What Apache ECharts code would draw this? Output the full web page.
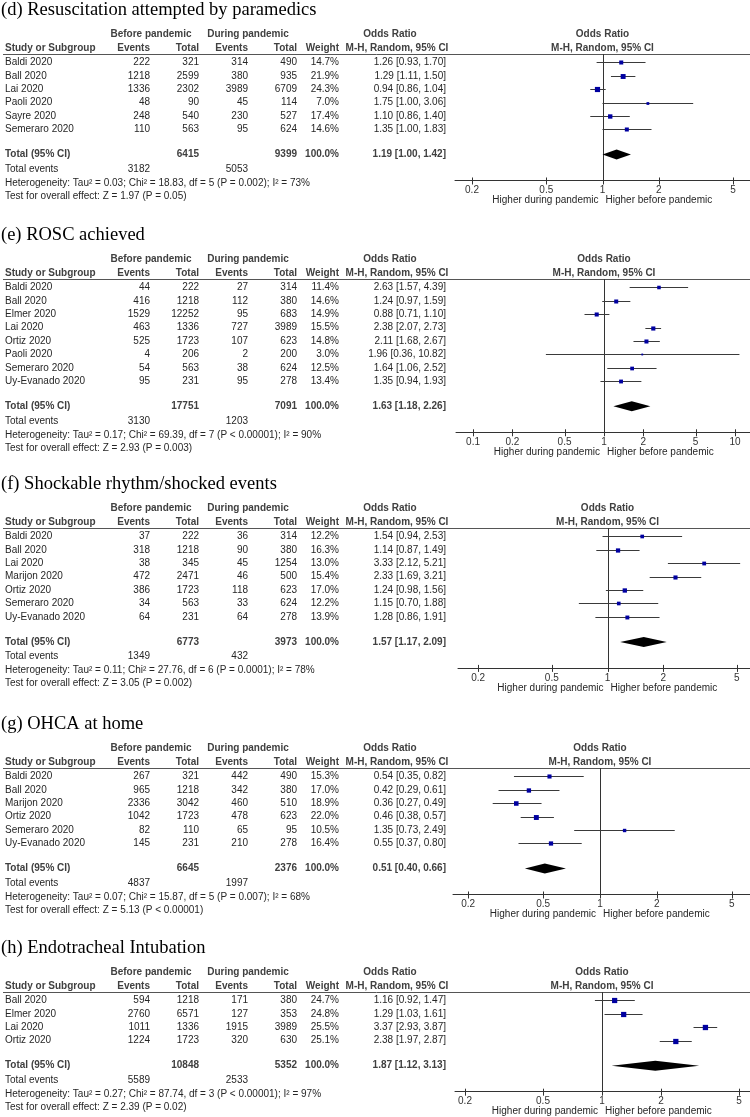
<!DOCTYPE html>
<html><head><meta charset="utf-8">
<script src="https://cdn.jsdelivr.net/npm/echarts@6/dist/echarts.min.js"></script>
<style>html,body{margin:0;padding:0;background:#fff}#c{width:750px;height:1117px}</style>
</head><body><div id="c"></div>
<script>
// ---------------- DATA ----------------
const titles = ["(d) Resuscitation attempted by paramedics", "(e) ROSC achieved", "(f) Shockable rhythm/shocked events", "(g) OHCA at home", "(h) Endotracheal Intubation"];

// (d) Resuscitation attempted by paramedics
const dStudies = ["Baldi 2020", "Ball 2020", "Lai 2020", "Paoli 2020", "Sayre 2020", "Semeraro 2020"];
const dBeforeEvents = [222, 1218, 1336, 48, 248, 110];
const dBeforeTotal = [321, 2599, 2302, 90, 540, 563];
const dDuringEvents = [314, 380, 3989, 45, 230, 95];
const dDuringTotal = [490, 935, 6709, 114, 527, 624];
const dWeight = [14.7, 21.9, 24.3, 7.0, 17.4, 14.6];
const dOR = [1.26, 1.29, 0.94, 1.75, 1.10, 1.35];
const dLo = [0.93, 1.11, 0.86, 1.00, 0.86, 1.00];
const dHi = [1.70, 1.50, 1.04, 3.06, 1.40, 1.83];

// (e) ROSC achieved
const eStudies = ["Baldi 2020", "Ball 2020", "Elmer 2020", "Lai 2020", "Ortiz 2020", "Paoli 2020", "Semeraro 2020", "Uy-Evanado 2020"];
const eBeforeEvents = [44, 416, 1529, 463, 525, 4, 54, 95];
const eBeforeTotal = [222, 1218, 12252, 1336, 1723, 206, 563, 231];
const eDuringEvents = [27, 112, 95, 727, 107, 2, 38, 95];
const eDuringTotal = [314, 380, 683, 3989, 623, 200, 624, 278];
const eWeight = [11.4, 14.6, 14.9, 15.5, 14.8, 3.0, 12.5, 13.4];
const eOR = [2.63, 1.24, 0.88, 2.38, 2.11, 1.96, 1.64, 1.35];
const eLo = [1.57, 0.97, 0.71, 2.07, 1.68, 0.36, 1.06, 0.94];
const eHi = [4.39, 1.59, 1.10, 2.73, 2.67, 10.82, 2.52, 1.93];

// (f) Shockable rhythm/shocked events
const fStudies = ["Baldi 2020", "Ball 2020", "Lai 2020", "Marijon 2020", "Ortiz 2020", "Semeraro 2020", "Uy-Evanado 2020"];
const fBeforeEvents = [37, 318, 38, 472, 386, 34, 64];
const fBeforeTotal = [222, 1218, 345, 2471, 1723, 563, 231];
const fDuringEvents = [36, 90, 45, 46, 118, 33, 64];
const fDuringTotal = [314, 380, 1254, 500, 623, 624, 278];
const fWeight = [12.2, 16.3, 13.0, 15.4, 17.0, 12.2, 13.9];
const fOR = [1.54, 1.14, 3.33, 2.33, 1.24, 1.15, 1.28];
const fLo = [0.94, 0.87, 2.12, 1.69, 0.98, 0.70, 0.86];
const fHi = [2.53, 1.49, 5.21, 3.21, 1.56, 1.88, 1.91];

// (g) OHCA at home
const gStudies = ["Baldi 2020", "Ball 2020", "Marijon 2020", "Ortiz 2020", "Semeraro 2020", "Uy-Evanado 2020"];
const gBeforeEvents = [267, 965, 2336, 1042, 82, 145];
const gBeforeTotal = [321, 1218, 3042, 1723, 110, 231];
const gDuringEvents = [442, 342, 460, 478, 65, 210];
const gDuringTotal = [490, 380, 510, 623, 95, 278];
const gWeight = [15.3, 17.0, 18.9, 22.0, 10.5, 16.4];
const gOR = [0.54, 0.42, 0.36, 0.46, 1.35, 0.55];
const gLo = [0.35, 0.29, 0.27, 0.38, 0.73, 0.37];
const gHi = [0.82, 0.61, 0.49, 0.57, 2.49, 0.80];

// (h) Endotracheal Intubation
const hStudies = ["Ball 2020", "Elmer 2020", "Lai 2020", "Ortiz 2020"];
const hBeforeEvents = [594, 2760, 1011, 1224];
const hBeforeTotal = [1218, 6571, 1336, 1723];
const hDuringEvents = [171, 127, 1915, 320];
const hDuringTotal = [380, 353, 3989, 630];
const hWeight = [24.7, 24.8, 25.5, 25.1];
const hOR = [1.16, 1.29, 3.37, 2.38];
const hLo = [0.92, 1.03, 2.93, 1.97];
const hHi = [1.47, 1.61, 3.87, 2.87];

// Pooled totals (d, e, f, g, h)
const totBeforeN = [6415, 17751, 6773, 6645, 10848];
const totDuringN = [9399, 7091, 3973, 2376, 5352];
const totBeforeEv = [3182, 3130, 1349, 4837, 5589];
const totDuringEv = [5053, 1203, 432, 1997, 2533];
const totOR = [1.19, 1.63, 1.57, 0.51, 1.87];
const totLo = [1.00, 1.18, 1.17, 0.40, 1.12];
const totHi = [1.42, 2.26, 2.09, 0.66, 3.13];

// Heterogeneity / overall effect
const hetTau2 = ["0.03", "0.17", "0.11", "0.07", "0.27"];
const hetChi2 = ["18.83", "69.39", "27.76", "15.87", "87.74"];
const hetDf = [5, 7, 6, 5, 3];
const hetP = ["= 0.002", "< 0.00001", "= 0.0001", "= 0.007", "< 0.00001"];
const hetI2 = [73, 90, 78, 68, 97];
const testZ = ["1.97", "2.93", "3.05", "5.13", "2.39"];
const testP = ["= 0.05", "= 0.003", "= 0.002", "< 0.00001", "= 0.02"];

// Axis tick labels
const ticksNarrow = [0.2, 0.5, 1, 2, 5];
const ticksWide = [0.1, 0.2, 0.5, 1, 2, 5, 10];
const favourLeft = "Higher during pandemic";
const favourRight = "Higher before pandemic";

// ---------------- LAYOUT (not data) ----------------
const panels = [
  {studies:dStudies, bEv:dBeforeEvents, bN:dBeforeTotal, dEv:dDuringEvents, dN:dDuringTotal, w:dWeight, or:dOR, lo:dLo, hi:dHi, ticks:ticksNarrow},
  {studies:eStudies, bEv:eBeforeEvents, bN:eBeforeTotal, dEv:eDuringEvents, dN:eDuringTotal, w:eWeight, or:eOR, lo:eLo, hi:eHi, ticks:ticksWide},
  {studies:fStudies, bEv:fBeforeEvents, bN:fBeforeTotal, dEv:fDuringEvents, dN:fDuringTotal, w:fWeight, or:fOR, lo:fLo, hi:fHi, ticks:ticksNarrow},
  {studies:gStudies, bEv:gBeforeEvents, bN:gBeforeTotal, dEv:gDuringEvents, dN:gDuringTotal, w:gWeight, or:gOR, lo:gLo, hi:gHi, ticks:ticksNarrow},
  {studies:hStudies, bEv:hBeforeEvents, bN:hBeforeTotal, dEv:hDuringEvents, dN:hDuringTotal, w:hWeight, or:hOR, lo:hLo, hi:hHi, ticks:ticksNarrow}
];
const layout = [
  {hy:48,  left:455, min:-0.79, max:0.79},
  {hy:273, left:456, min:-1.13, max:1.115},
  {hy:522, left:458, min:-0.808, max:0.77},
  {hy:762, left:453, min:-0.779, max:0.795},
  {hy:986, left:455, min:-0.75, max:0.755}
];
const ROW = 13.4;
const SANS = '"Liberation Sans", Arial, sans-serif';
const SERIF = '"Liberation Serif", "Times New Roman", serif';
const TXT = '#262626', HDR = '#404040';
const COL = {study:5, bEv:150, bN:199, dEv:248, dN:297, wt:339, or:446};

const lg = v => Math.log10(v);
const f2 = v => v.toFixed(2);

const option = {animation:false, grid:[], xAxis:[], yAxis:[], series:[]};

panels.forEach((p, k) => {
  const L = layout[k];
  const n = p.studies.length;
  const yMin = -0.634, yMax = n + 2.806;
  option.grid.push({left:L.left, right:0, top:L.hy + 6, height:ROW * (yMax - yMin)});
  const tv = p.ticks.map(lg);
  option.xAxis.push({
    type:'value', gridIndex:k, min:L.min, max:L.max,
    axisLine:{show:true, onZero:false, lineStyle:{color:'#333', width:1}},
    splitLine:{show:false},
    axisTick:{show:false},
    axisLabel:{customValues:tv, margin:5, fontSize:10, fontFamily:SANS, color:'#333',
      formatter: v => { const t = p.ticks.find(t => Math.abs(lg(t) - v) < 1e-6); return t === undefined ? '' : String(t); }}
  });
  option.yAxis.push({type:'value', gridIndex:k, inverse:true, min:yMin, max:yMax, show:false});

  // rows of text (y in row units)
  const rows = [];
  const c = (t, x, a, opt) => Object.assign({t, x, a}, opt || {});
  rows.push({y:-3.93, cells:[c(titles[k], 1, 'left', {serif:true})]});
  rows.push({y:-2.127, cells:[c('Before pandemic', 151, 'center', {b:true}), c('During pandemic', 248, 'center', {b:true}),
    c('Odds Ratio', 390, 'center', {b:true}), c('Odds Ratio', 0, 'center', {b:true, one:true})]});
  rows.push({y:-1.082, cells:[c('Study or Subgroup', COL.study, 'left', {b:true}), c('Events', COL.bEv, 'right', {b:true}),
    c('Total', COL.bN, 'right', {b:true}), c('Events', COL.dEv, 'right', {b:true}), c('Total', COL.dN, 'right', {b:true}),
    c('Weight', COL.wt, 'right', {b:true}), c('M-H, Random, 95% CI', 397, 'center', {b:true}),
    c('M-H, Random, 95% CI', 0, 'center', {b:true, one:true})], hline:yMin, vline:[yMin, yMax]});
  p.studies.forEach((s, i) => {
    rows.push({y:i, cells:[c(s, COL.study, 'left'), c(String(p.bEv[i]), COL.bEv, 'right'), c(String(p.bN[i]), COL.bN, 'right'),
      c(String(p.dEv[i]), COL.dEv, 'right'), c(String(p.dN[i]), COL.dN, 'right'), c(p.w[i].toFixed(1) + '%', COL.wt, 'right'),
      c(`${f2(p.or[i])} [${f2(p.lo[i])}, ${f2(p.hi[i])}]`, COL.or, 'right')]});
  });
  const ty = n + 0.866;
  rows.push({y:ty, cells:[c('Total (95% CI)', COL.study, 'left', {b:true}), c(String(totBeforeN[k]), COL.bN, 'right', {b:true}),
    c(String(totDuringN[k]), COL.dN, 'right', {b:true}), c('100.0%', COL.wt, 'right', {b:true}),
    c(`${f2(totOR[k])} [${f2(totLo[k])}, ${f2(totHi[k])}]`, COL.or, 'right', {b:true})]});
  rows.push({y:n + 1.95, cells:[c('Total events', COL.study, 'left'), c(String(totBeforeEv[k]), COL.bEv, 'right'),
    c(String(totDuringEv[k]), COL.dEv, 'right')]});
  rows.push({y:n + 2.99, cells:[c(`Heterogeneity: Tau² = ${hetTau2[k]}; Chi² = ${hetChi2[k]}, df = ${hetDf[k]} (P ${hetP[k]}); I² = ${hetI2[k]}%`, COL.study, 'left')]});
  rows.push({y:n + 3.97, cells:[c(`Test for overall effect: Z = ${testZ[k]} (P ${testP[k]})`, COL.study, 'left')]});
  rows.push({y:n + 4.29, cells:[c(favourLeft, -4, 'right', {one:true}), c(favourRight, 3, 'left', {one:true})]});

  option.series.push({
    type:'custom', coordinateSystem:'cartesian2d', xAxisIndex:k, yAxisIndex:k, silent:true, clip:false,
    data: rows.map(r => [0, r.y]),
    renderItem: (params, api) => {
      const r = rows[params.dataIndex];
      const y = api.coord([0, r.y])[1];
      const ox = api.coord([0, 0])[0];
      const ch = [];
      if (r.hline !== undefined) {
        const yy = Math.round(api.coord([0, r.hline])[1]) + 0.5;
        ch.push({type:'line', shape:{x1:3, y1:yy, x2:750, y2:yy}, style:{stroke:'#555', lineWidth:1}});
      }
      if (r.vline) {
        const xx = Math.round(ox) + 0.5;
        ch.push({type:'line', shape:{x1:xx, y1:api.coord([0, r.vline[0]])[1], x2:xx, y2:api.coord([0, r.vline[1]])[1]}, style:{stroke:'#333', lineWidth:1}});
      }
      r.cells.forEach(cell => {
        ch.push({type:'text', style:{
          text:cell.t, x:cell.one ? ox + cell.x : cell.x, y:y, align:cell.a, verticalAlign:'middle',
          fontFamily:cell.serif ? SERIF : SANS, fontSize:cell.serif ? 18.5 : 10,
          fontWeight:cell.b ? 'bold' : 'normal', fill:cell.serif ? '#000' : (cell.b ? HDR : TXT)
        }});
      });
      return {type:'group', children:ch};
    }
  });

  // axis tick marks crossing the axis line
  option.series.push({
    type:'custom', coordinateSystem:'cartesian2d', xAxisIndex:k, yAxisIndex:k, silent:true, clip:false,
    data: tv.map(v => [v, yMax]),
    renderItem: (params, api) => {
      const pt = api.coord([api.value(0), api.value(1)]);
      const xx = Math.round(pt[0]) + 0.5;
      return {type:'line', shape:{x1:xx, y1:pt[1] - 3, x2:xx, y2:pt[1] + 4}, style:{stroke:'#333', lineWidth:1}};
    }
  });

  const fdata = p.studies.map((s, i) => [lg(p.or[i]), i, lg(p.lo[i]), lg(p.hi[i]), p.w[i], 0]);
  fdata.push([lg(totOR[k]), ty, lg(totLo[k]), lg(totHi[k]), 100, 1]);
  option.series.push({
    type:'custom', coordinateSystem:'cartesian2d', xAxisIndex:k, yAxisIndex:k, silent:true, clip:false,
    data: fdata,
    renderItem: (params, api) => {
      const y = api.value(1);
      const cP = api.coord([api.value(0), y]);
      const lo = api.coord([api.value(2), y]);
      const hi = api.coord([api.value(3), y]);
      if (api.value(5) === 1) {
        return {type:'polygon', shape:{points:[[lo[0], cP[1]], [cP[0], cP[1] - 5], [hi[0], cP[1]], [cP[0], cP[1] + 5]]}, style:{fill:'#000'}};
      }
      const s = 1.05 * Math.sqrt(api.value(4));
      const yy = Math.round(cP[1]) + 0.5;
      return {type:'group', children:[
        {type:'line', shape:{x1:lo[0], y1:yy, x2:hi[0], y2:yy}, style:{stroke:'#3a3a3a', lineWidth:1}},
        {type:'rect', shape:{x:cP[0] - s / 2, y:yy - s / 2, width:s, height:s}, style:{fill:'#0000a0'}}
      ]};
    }
  });
});

const chart = echarts.init(document.getElementById('c'), null, {renderer:'canvas'});
chart.setOption(option);
</script>
</body></html>
